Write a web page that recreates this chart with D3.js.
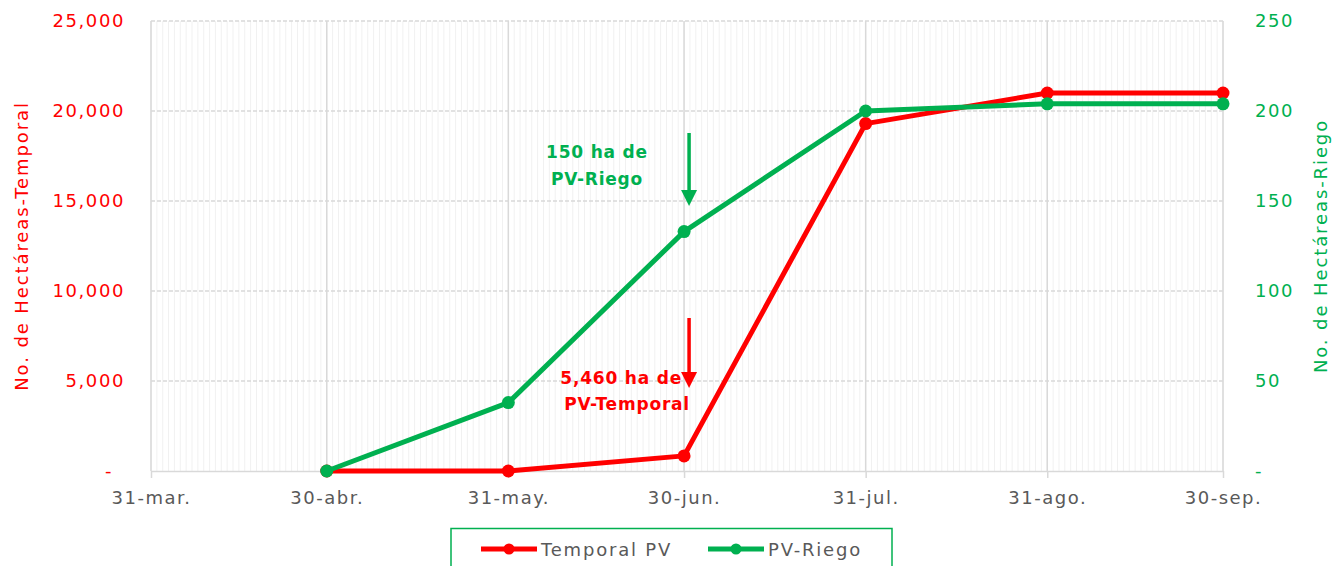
<!DOCTYPE html>
<html><head><meta charset="utf-8">
<script src="https://cdn.jsdelivr.net/npm/d3@7"></script>
<style>body{margin:0;background:#fff;} svg{display:block;font-family:"DejaVu Sans",sans-serif;}</style>
</head><body>
<svg id="c" width="1333" height="566"></svg>
<script>
const dates = ["2023-04-30","2023-05-31","2023-06-30","2023-07-31","2023-08-31","2023-09-30"];
const temporalPV = [0, 0, 840, 19300, 21000, 21000];
const pvRiego = [0, 38, 133, 200, 204, 204];
const xTickDates = ["2023-03-31","2023-04-30","2023-05-31","2023-06-30","2023-07-31","2023-08-31","2023-09-30"];
const xTickLabels = ["31-mar.","30-abr.","31-may.","30-jun.","31-jul.","31-ago.","30-sep."];
const leftTicks = [0,5000,10000,15000,20000,25000];
const rightTicks = [0,50,100,150,200,250];

const RED="#ff0000", GREEN="#00b050", GRAY="#595959";
const FONT="'DejaVu Sans',sans-serif";
const svg=d3.select("#c");
const parse=d3.utcParse("%Y-%m-%d");
const L=151,R=1223,T=21,B=471;
const x=d3.scaleUtc().domain([parse(xTickDates[0]),parse(xTickDates[6])]).range([L,R]);
const yL=d3.scaleLinear().domain([0,25000]).range([B,T]);
const yR=d3.scaleLinear().domain([0,250]).range([B,T]);

// minor daily gridlines
const days=d3.utcDay.range(parse(xTickDates[0]),d3.utcDay.offset(parse(xTickDates[6]),1));
svg.append("g").selectAll("line").data(days).join("line")
 .attr("x1",d=>x(d)).attr("x2",d=>x(d)).attr("y1",T).attr("y2",B)
 .attr("stroke","#f1f1f1").attr("stroke-width",1);
// horizontal dashed gridlines
svg.append("g").selectAll("line").data(leftTicks.slice(1)).join("line")
 .attr("x1",L).attr("x2",R).attr("y1",d=>yL(d)).attr("y2",d=>yL(d))
 .attr("stroke","#d9d9d9").attr("stroke-width",1.3).attr("stroke-dasharray","4,2");
// major monthly gridlines
svg.append("g").selectAll("line").data(xTickDates).join("line")
 .attr("x1",d=>x(parse(d))).attr("x2",d=>x(parse(d))).attr("y1",T).attr("y2",B)
 .attr("stroke","#d9d9d9").attr("stroke-width",1.5);
// x axis
const xAxis=d3.axisBottom(x).tickValues(xTickDates.map(parse)).tickFormat((d,i)=>xTickLabels[i]).tickSize(7).tickSizeOuter(0);
const gx=svg.append("g").attr("transform",`translate(0,${B})`).call(xAxis);
gx.select(".domain").attr("stroke","#d9d9d9").attr("stroke-width",1.5);
gx.selectAll(".tick line").attr("stroke","#d9d9d9").attr("stroke-width",1.5);
gx.selectAll("text").attr("fill",GRAY).attr("font-size",18).attr("font-family",FONT).attr("letter-spacing",1.5).attr("dy","1.25em");

// left axis
const gl=svg.append("g").attr("transform",`translate(${L},0)`)
 .call(d3.axisLeft(yL).tickValues(leftTicks).tickFormat(d=>d===0?"-":d3.format(",")(d)).tickSize(0).tickPadding(26));
gl.select(".domain").remove();
gl.selectAll("text").attr("fill",RED).attr("font-size",18).attr("font-family",FONT).attr("letter-spacing",1.6)
 .attr("x",d=>d===0?-38:-26);
// right axis
const gr=svg.append("g").attr("transform",`translate(${R},0)`)
 .call(d3.axisRight(yR).tickValues(rightTicks).tickFormat(d=>d===0?"-":d).tickSize(0).tickPadding(32));
gr.select(".domain").remove();
gr.selectAll("text").attr("fill",GREEN).attr("font-size",18).attr("font-family",FONT).attr("letter-spacing",1.6);

// axis titles
svg.append("text").attr("transform",`translate(28,246) rotate(-90)`).attr("text-anchor","middle")
 .attr("fill",RED).attr("font-size",18).attr("letter-spacing",1.9).text("No. de Hectáreas-Temporal");
svg.append("text").attr("transform",`translate(1327,246) rotate(-90)`).attr("text-anchor","middle")
 .attr("fill",GREEN).attr("font-size",18).attr("letter-spacing",1.9).text("No. de Hectáreas-Riego");

// series
function series(vals,y,color){
  const pts=dates.map((d,i)=>[x(parse(d)),y(vals[i])]);
  svg.append("path").attr("d",d3.line()(pts)).attr("fill","none").attr("stroke",color).attr("stroke-width",5).attr("stroke-linejoin","round");
  svg.append("g").selectAll("circle").data(pts).join("circle").attr("cx",d=>d[0]).attr("cy",d=>d[1]).attr("r",6.5).attr("fill",color);
}
series(temporalPV,yL,RED);
series(pvRiego,yR,GREEN);

// annotations
const xJun=x(parse("2023-06-30"))+5;
svg.append("line").attr("x1",xJun).attr("x2",xJun).attr("y1",133).attr("y2",194).attr("stroke",GREEN).attr("stroke-width",3.5);
svg.append("path").attr("d",`M${xJun-8},190L${xJun+8},190L${xJun},206Z`).attr("fill",GREEN);
svg.append("line").attr("x1",xJun).attr("x2",xJun).attr("y1",318).attr("y2",374).attr("stroke",RED).attr("stroke-width",3.5);
svg.append("path").attr("d",`M${xJun-8},372L${xJun+8},372L${xJun},388Z`).attr("fill",RED);

const ag=svg.append("text").attr("fill",GREEN).attr("font-size",17).attr("font-weight",700).attr("letter-spacing",0.8).attr("text-anchor","middle");
ag.append("tspan").attr("x",597).attr("y",158).text("150 ha de");
ag.append("tspan").attr("x",597).attr("y",185).text("PV-Riego");
const ar=svg.append("text").attr("fill",RED).attr("font-size",17).attr("font-weight",700).attr("letter-spacing",0.8).attr("text-anchor","end");
ar.append("tspan").attr("x",682).attr("y",384).text("5,460 ha de");
ar.append("tspan").attr("x",690).attr("y",410).text("PV-Temporal");

// legend
svg.append("rect").attr("x",451).attr("y",528.5).attr("width",441).attr("height",45).attr("fill","#fff").attr("stroke",GREEN).attr("stroke-width",1.5);
const leg=[["Temporal PV",RED,481],["PV-Riego",GREEN,708]];
leg.forEach(([t,c,lx])=>{
 svg.append("line").attr("x1",lx).attr("x2",lx+56).attr("y1",549).attr("y2",549).attr("stroke",c).attr("stroke-width",5);
 svg.append("circle").attr("cx",lx+28).attr("cy",549).attr("r",5.5).attr("fill",c);
 svg.append("text").attr("x",lx+60).attr("y",555.5).attr("fill",GRAY).attr("font-size",18).attr("letter-spacing",1.8).text(t);
});
</script>
</body></html>
